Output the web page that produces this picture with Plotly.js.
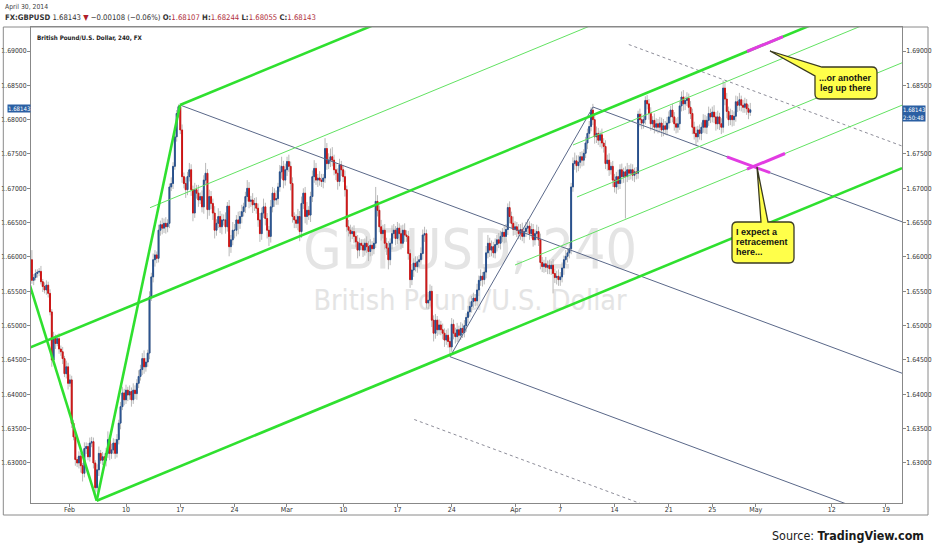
<!DOCTYPE html>
<html><head><meta charset="utf-8">
<script src="https://cdn.plot.ly/plotly-3.0.1.min.js"></script>
<style>html,body{margin:0;padding:0;background:#fff}#chart{width:932px;height:550px}</style>
</head><body><div id="chart"></div>
<script>
// ---------- DATA ----------
// 4-hour GBPUSD bars, prices in pips above 1.6000 (e.g. 581 -> 1.6581)
// x axis = trading-day index (Mon Jan 27 2014 = 0, weekends skipped)
const barStart = 1 + 8/24;     // first bar: Tue Jan 28, 08:00
const barStep = 1/6;           // 4 hours
const firstOpenPips = 596;
const closePips = [
  566,570,576,578,                                   // Jan 28
  579,564,557,552,559,547, 520,450,482,474,481,466, 462,452,430,440,416,421,
  358,338,305,300,310,296, 285,321,324,309,329,331, 300,264,290,314,304,309, 304,314,334,314,319,329, 314,334,358,382,402,392,
  406,399,404,392,406,401, 416,426,436,452,440,447, 460,542,571,596,603,598, 639,647,642,649,644,649, 702,707,732,775,809,819,
  785,717,707,698,717,727, 698,664,698,693,683,688, 673,712,722,669,688,678, 664,639,649,659,644,654, 654,644,674,615,625,639,
  639,654,649,659,666,673, 688,700,681,683,676,678, 671,654,634,664,673,656, 639,630,673,693,683,685, 702,724,732,712,727,739,
  732,707,659,654,649,659, 637,678,693,659,668,661, 688,717,729,712,715,712, 710,715,758,736,741,746, 741,727,722,710,734,727,
  717,698,644,639,634,637, 630,622,610,620,617,610, 620,615,608,617,612,620, 681,668,644,634,639,620, 613,596,620,634,639,627,
  642,634,620,639,632,630, 605,567,581,591,586,593, 596,605,632,634,533,537, 550,508,489,508,494,501, 494,489,479,486,477,469,
  502,489,484,494,486,496, 490,500,512,520,528,535, 540,536,552,566,572,567, 578,606,620,610,615,606, 618,625,620,630,636,630,
  640,672,659,649,640,644, 639,634,640,630,637,642, 645,634,640,625,634,637, 625,592,586,590,585,588, 583,588,576,570,572,567,
  571,584,596,601,606,612, 702,736,740,733,738,746, 741,751,766,780,790,814, 800,775,780,770,778,766, 761,736,741,727,732,712,
  702,717,707,727,717,724, 717,727,722,727,719,724, 722,808,800,795,800,828, 823,809,794,799,789,794, 789,795,785,791,786,795,
  804,814,804,794,789,794, 820,833,823,828,831,818, 809,789,780,775,785,780, 789,799,789,799,809,804, 811,804,794,804,794,789,
  846,830,812,800,806,800, 805,826,821,829,821,818, 823,816,810.7,814.3
];
const wickUpPips = [
  14,5,6,4,
  5,8,4,6,7,5, 6,4,9,5,6,8, 5,7,4,9,6,8,
  6,5,8,4,7,5, 4,9,6,5,8,7, 6,4,8,10,5,7, 5,8,12,6,9,7, 6,8,5,7,9,6,
  8,5,9,6,10,7, 6,9,7,8,12,6, 5,8,6,9,7,5, 8,6,10,7,9,6, 5,9,6,7,5,3,
  4,8,6,9,7,10, 8,6,10,7,12,6, 9,7,15,6,10,8, 7,10,6,12,8,9, 8,11,6,9,7,12,
  9,7,12,8,10,6, 7,12,9,6,10,8, 9,7,10,8,12,6, 8,6,10,9,7,12, 6,10,14,8,9,7,
  10,7,9,6,8,11, 8,10,7,9,12,6, 7,9,12,8,6,10, 9,6,15,8,10,12, 14,8,10,7,9,6,
  7,9,6,10,8,7, 9,7,10,8,6,9, 7,10,8,9,6,8, 21,9,7,10,8,9, 8,10,7,12,9,6,
  9,7,12,8,10,7, 8,6,9,7,10,8, 7,9,8,10,6,12, 10,8,7,9,6,8, 6,9,7,8,10,6,
  9,7,8,10,6,9, 7,8,6,9,7,8, 8,6,9,7,10,6, 7,10,12,8,9,7, 9,7,10,8,6,9,
  8,6,9,7,10,8, 7,9,8,10,6,9, 10,7,9,8,6,10, 7,9,8,6,10,7, 8,6,9,7,8,10,
  7,8,6,9,7,8, 6,9,12,8,10,7, 8,6,9,7,8,4, 9,7,10,8,6,9, 7,9,8,10,6,8,
  9,7,10,8,9,6, 8,10,7,9,8,6, 7,5,8,9,7,6, 8,7,9,6,10,8, 7,9,8,10,7,9,
  8,6,9,7,8,10, 7,8,10,6,9,7, 9,7,8,10,6,8, 7,9,8,6,10,7, 8,10,7,9,6,8,
  11,8,9,7,10,8, 7,9,8,10,6,8, 9,7,6,10.1
];
const wickDownPips = [
  5,7,4,6,
  6,4,8,5,7,6, 5,10,6,8,4,7, 6,8,5,7,9,5,
  7,5,9,6,8,10, 12,6,8,5,7,6, 8,16,6,9,5,7, 6,9,7,10,8,6, 8,6,7,9,5,8,
  6,9,7,10,6,8, 9,7,6,8,10,7, 7,9,6,8,10,7, 6,8,9,7,10,8, 7,6,8,5,7,6,
  6,9,7,12,8,7, 9,12,7,8,10,6, 8,10,7,14,9,8, 10,12,8,7,9,11, 8,10,7,14,9,8,
  12,9,16,8,10,7, 9,7,10,8,12,9, 8,10,12,9,7,10, 12,14,9,8,10,7, 9,7,10,12,8,9,
  8,10,9,12,7,10, 14,9,8,10,12,7, 10,8,9,7,10,8, 8,10,7,9,8,10, 9,8,10,12,7,9,
  8,10,7,9,12,8, 10,8,12,9,7,10, 8,9,14,7,10,8, 7,9,8,10,7,9, 10,14,8,9,7,10,
  8,10,9,7,10,8, 9,12,8,10,7,9, 8,7,9,10,8,9, 9,10,12,8,9,7, 8,9,10,7,9,14,
  7,9,10,8,9,7, 8,7,9,8,7,9, 9,8,7,9,8,10, 7,9,8,10,9,7, 8,10,7,9,8,10,
  9,8,10,7,9,8, 10,8,9,7,10,8, 8,9,7,10,8,9, 9,10,8,9,7,10, 8,9,29,8,10,9,
  9,8,10,7,9,8, 8,7,9,10,8,9, 9,8,7,9,8,7, 8,10,9,7,10,8, 9,8,10,9,7,10,
  8,10,9,8,10,9, 61,8,10,9,8,10, 9,8,10,9,8,7, 8,9,10,8,9,7, 9,8,10,9,8,9,
  8,9,8,10,9,8, 9,8,10,9,8,10, 8,10,9,12,8,9, 10,8,9,10,8,9, 8,9,10,8,9,10,
  8,9,10,9,8,10, 9,8,10,8,9,8, 8,9,10,5.2
];
// axis ticks
const tickDays = [4.8, 10, 15, 20, 24.8, 30, 35, 40, 45.9, 50, 55, 60, 64, 68, 75, 80];
const tickLabels = ['Feb','10','17','24','Mar','10','17','24','Apr','7','14','21','25','May','12','19'];
const priceTicks = [1.63, 1.635, 1.64, 1.645, 1.65, 1.655, 1.66, 1.665, 1.67, 1.675, 1.68, 1.685, 1.69];
const rightPriceTicks = [1.63, 1.635, 1.64, 1.645, 1.65, 1.655, 1.66, 1.665, 1.67, 1.675, 1.685, 1.69]; // 1.68 hidden by the price tag
// drawings: segment end points (trading-day index, price), null separates segments
const forkThickT = [0.2368, 7.3013, null, 7.3013, 14.9737, null, 0.2368, 81.4745, null, 14.9737, 81.4745, null, 7.3013, 81.4745];
const forkThickP = [1.660507, 1.624503, null, 1.624503, 1.682135, null, 1.646205, 1.699248, null, 1.682135, 1.725566, null, 1.624503, 1.672945];
const forkThinT = [12.2106, 81.4745, null, 51.1716, 81.4745, null, 51.54, 81.4745, null, 45.8294, 81.4745];
const forkThinP = [1.667178, 1.712415, null, 1.676310, 1.696103, null, 1.668736, 1.688281, null, 1.658832, 1.682106];
const forkSlateT = [14.9737, 81.4745, null, 53.0137, 81.4745, null, 39.8425, 81.4745, null, 39.8425, 53.0137];
const forkSlateP = [1.682135, 1.643073, null, 1.681844, 1.665124, null, 1.645476, 1.621024, null, 1.645476, 1.681844];
const warnT = [56.3065, 81.4745, null, 36.5497, 81.4745];
const warnP = [1.690947, 1.676164, null, 1.636330, 1.609939];
const markT = [67.1989, 70.5148, null, 65.3568, 69.3175, null, 67.1989, 70.699];
const markP = [1.689927, 1.692097, null, 1.674591, 1.672275, null, 1.672785, 1.675072];
// callouts: tip positions and text lines
const calloutT = [69.316, 68.119];
const calloutP = [1.69, 1.673105];
const calloutLines = [['...or another', 'leg up there'], ['I expect a', 'retracement', 'here...']];
const lastPrice = 1.68143;
const lastPriceText = '1.68143';
const countdownText = '2:50:48';

// ---------- BUILD ----------
const P = v => 1.6 + v / 10000;
const xs = [], o = [], c = [], hi = [], lo = [], bodyHi = [], bodyLo = [];
for (let i = 0; i < closePips.length; i++) {
  const t = barStart + i * barStep;
  const op = i === 0 ? firstOpenPips : closePips[i - 1];
  const cl = closePips[i];
  const top = Math.max(op, cl), bot = Math.min(op, cl);
  xs.push(t); o.push(P(op)); c.push(P(cl)); bodyHi.push(P(top)); bodyLo.push(P(bot));
  hi.push(P(top + (wickUpPips[i] || 0))); lo.push(P(bot - (wickDownPips[i] || 0)));
}

const COND = "'DejaVu Sans Condensed', 'Liberation Sans Narrow', sans-serif";
const ARIAL = "'Liberation Sans', Arial, sans-serif";
const L = 31, T = 27, W = 871, H = 476;
const px = v => (v - L) / W, py = v => (T + H - v) / H;

const lineTrace = (x, y, color, width, dash) => ({
  type: 'scatter', mode: 'lines', x, y, hoverinfo: 'skip', showlegend: false,
  line: {color, width, dash: dash || 'solid'}
});

const WICK = '#b8b8b8';
const traces = [
  // gray wicks (full high-low)
  {type: 'candlestick', x: xs, open: o, high: hi, low: lo, close: c, hoverinfo: 'skip',
   showlegend: false, whiskerwidth: 0,
   increasing: {line: {color: WICK, width: 1}, fillcolor: WICK},
   decreasing: {line: {color: WICK, width: 1}, fillcolor: WICK}},
  // coloured bodies on top
  {type: 'candlestick', x: xs, open: o, high: bodyHi, low: bodyLo, close: c, hoverinfo: 'skip',
   showlegend: false, whiskerwidth: 0,
   increasing: {line: {color: '#28508c', width: 1}, fillcolor: '#2c5ea3'},
   decreasing: {line: {color: '#cc1414', width: 1}, fillcolor: '#e31a1a'}},
  lineTrace(forkSlateT, forkSlateP, '#5a6889', 1),
  lineTrace(warnT, warnP, '#8d8d99', 1, 'dot'),
  lineTrace(forkThinT, forkThinP, '#62e262', 1),
  lineTrace(forkThickT, forkThickP, '#2fe02f', 2.6),
  lineTrace(markT, markP, '#e23ce2', 3),
  {type: 'scatter', mode: 'lines', x: [null], y: [null], yaxis: 'y2', hoverinfo: 'skip', showlegend: false}
];

const yRange = [1.624170, 1.693495];
const axisY = {
  range: yRange, tickmode: 'array',
  ticks: 'outside', ticklen: 3, ticklabelstandoff: -1,
  tickcolor: '#888', showgrid: false, zeroline: false, showline: true, linecolor: '#888', linewidth: 1,
  tickfont: {family: COND, size: 6.8, color: '#333'}, fixedrange: true
};

const annotations = [
  {xref: 'paper', yref: 'paper', x: px(3), y: py(7), xanchor: 'left', yanchor: 'middle', showarrow: false,
   text: 'April 30, 2014', font: {family: COND, size: 6.8, color: '#444'}},
  {xref: 'paper', yref: 'paper', x: px(3), y: py(17), xanchor: 'left', yanchor: 'middle', showarrow: false,
   text: '<b>FX:GBPUSD</b> 1.68143 <span style="color:#b0202a">▼</span> −0.00108 (−0.06%) <b>O:</b><span style="color:#b03040">1.68107</span> <b>H:</b><span style="color:#b03040">1.68244</span> <b>L:</b><span style="color:#b03040">1.68055</span> <b>C:</b><span style="color:#b03040">1.68143</span>',
   font: {family: COND, size: 7.7, color: '#333'}},
  {xref: 'paper', yref: 'paper', x: px(35), y: py(37), xanchor: 'left', yanchor: 'middle', showarrow: false,
   text: '<b>British Pound/U.S. Dollar, 240, FX</b>', font: {family: COND, size: 6.2, color: '#222'}},
  {xref: 'paper', yref: 'paper', x: px(926), y: py(535), xanchor: 'right', yanchor: 'middle', showarrow: false,
   text: 'Source: <b>TradingView.com</b>', font: {family: COND, size: 12.4, color: '#1a1a1a'}},
  // right scale: last price + bar countdown in one blue tag
  {xref: 'paper', yref: 'y', x: 1, y: lastPrice, yshift: -4, xanchor: 'left', yanchor: 'middle', showarrow: false,
   align: 'left', text: lastPriceText + '<br>' + countdownText, bgcolor: '#2a5fa3', borderpad: 0,
   font: {family: COND, size: 6, color: '#fff'}},
  {xref: 'paper', yref: 'y', x: 0, y: lastPrice, yshift: 1, xanchor: 'right', yanchor: 'middle', showarrow: false,
   text: lastPriceText, bgcolor: '#2a5fa3', borderpad: 0, font: {family: COND, size: 6, color: '#fff'}}
];
// callout text
const calloutLayout = [
  {xshift: 76, anchor: 'center', y0: -27, step: -10},
  {xshift: -23, anchor: 'left', y0: -65, step: -10}
];
calloutLines.forEach((lines, k) => {
  lines.forEach((s, j) => annotations.push({
    xref: 'x', yref: 'y', x: calloutT[k], y: calloutP[k], showarrow: false,
    xshift: calloutLayout[k].xshift, yshift: calloutLayout[k].y0 + j * calloutLayout[k].step,
    xanchor: calloutLayout[k].anchor, yanchor: 'middle', text: '<b>' + s + '</b>',
    font: {family: ARIAL, size: 9, color: '#111'}
  }));
});

const calloutPaths = [
  'M0,0 L52,-16 L102,-16 Q107,-16 107,-21 L107,-43 Q107,-48 102,-48 L50,-48 Q45,-48 45,-43 L45,-25 Z',
  'M0,0 L11,-55 L32,-55 Q37,-55 37,-60 L37,-91 Q37,-96 32,-96 L-20,-96 Q-25,-96 -25,-91 L-25,-60 Q-25,-55 -20,-55 L4,-55 Z'
];

const shapes = [
  {type: 'rect', xref: 'paper', yref: 'paper', x0: px(3.3), x1: px(928), y0: py(515), y1: 1,
   line: {color: '#8a8a8a', width: 1}, fillcolor: 'rgba(0,0,0,0)', layer: 'above'},
  {type: 'rect', xref: 'paper', yref: 'paper', x0: px(250), x1: px(690), y0: py(275), y1: py(215),
   layer: 'below', line: {width: 0, color: 'rgba(0,0,0,0)'}, fillcolor: 'rgba(0,0,0,0)',
   label: {text: 'GBPUSD, 240', textposition: 'middle center', font: {family: COND, size: 55, color: '#e4e4e4'}}},
  {type: 'rect', xref: 'paper', yref: 'paper', x0: px(250), x1: px(690), y0: py(314), y1: py(282),
   layer: 'below', line: {width: 0, color: 'rgba(0,0,0,0)'}, fillcolor: 'rgba(0,0,0,0)',
   label: {text: 'British Pound/U.S. Dollar', textposition: 'middle center', font: {family: COND, size: 28.5, color: '#e4e4e4'}}}
];
calloutPaths.forEach((path, k) => shapes.push({
  type: 'path', xref: 'x', yref: 'y', xsizemode: 'pixel', ysizemode: 'pixel',
  xanchor: calloutT[k], yanchor: calloutP[k], path,
  fillcolor: '#ffff4a', line: {color: '#3a3a22', width: 1.3}, layer: 'above'
}));

const layout = {
  width: 932, height: 550, margin: {l: L, r: 932 - L - W, t: T, b: 550 - T - H},
  paper_bgcolor: '#fff', plot_bgcolor: '#fff', showlegend: false, boxgap: 0.3,
  xaxis: {range: [1.250, 81.4745], tickmode: 'array', tickvals: tickDays, ticktext: tickLabels,
    ticks: 'outside', ticklen: 3, ticklabelstandoff: -3,
    tickcolor: '#888', showgrid: false, zeroline: false, showline: true, mirror: true, linecolor: '#888',
    tickfont: {family: COND, size: 7, color: '#333'}, rangeslider: {visible: false}, fixedrange: true},
  yaxis: Object.assign({}, axisY, {side: 'left', tickvals: priceTicks, ticktext: priceTicks.map(v => v.toFixed(5))}),
  yaxis2: Object.assign({}, axisY, {side: 'right', overlaying: 'y',
    tickvals: rightPriceTicks, ticktext: rightPriceTicks.map(v => v.toFixed(5))}),
  annotations, shapes
};

Plotly.newPlot('chart', traces, layout, {staticPlot: true, displayModeBar: false});
</script></body></html>
